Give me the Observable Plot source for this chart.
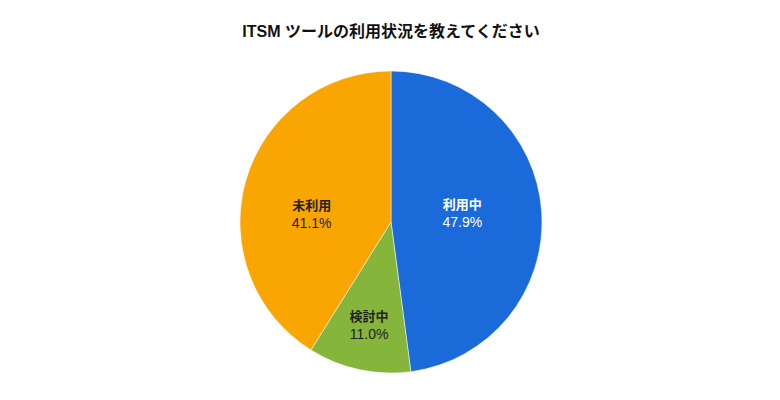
<!DOCTYPE html>
<html><head><meta charset="utf-8">
<script src="https://cdn.jsdelivr.net/npm/d3@7"></script>
<script src="https://cdn.jsdelivr.net/npm/@observablehq/plot@0.6"></script>
<style>
body{margin:0;background:#fff;font-family:"Liberation Sans","Noto Sans CJK JP",sans-serif;}
#title{height:50px;box-sizing:border-box;padding-top:22px;text-align:center;font-size:16px;font-weight:bold;color:#111;line-height:20px;padding-left:2px;}
</style></head>
<body>
<div id="title">ITSM ツールの利用状況を教えてください</div>
<div id="chart"></div>
<script>
const categories = ["利用中", "検討中", "未利用"];
const values = [47.9, 11.0, 41.1];
const sliceColors = ["#1b6ad9", "#85b53a", "#f9a602"];
const labelColors = ["#ffffff", "#222222", "#222222"];
const labelRadius = [0.47, 0.70, 0.55];
const labelNudgeY = [-4, 0, 15];

const W = 780, H = 350, R = 151, CX = 391, CY = 172;
const data = categories.map((c, i) => ({category: c, value: values[i], color: sliceColors[i], text: labelColors[i]}));
const arcs = d3.pie().sort(null).value(d => d.value)(data);
const labels = arcs.map((a, i) => {
  const c = d3.arc().innerRadius(labelRadius[i]).outerRadius(labelRadius[i]).centroid(a);
  return {...a.data, lx: c[0], ly: -c[1] - labelNudgeY[i] / R, pct: a.data.value.toFixed(1) + "%"};
});

const pieMark = (index, scales) => {
  const cx = scales.x(0), cy = scales.y(0), r = scales.x(1) - scales.x(0);
  const g = d3.create("svg:g").attr("transform", `translate(${cx},${cy})`);
  const arc = d3.arc().innerRadius(0).outerRadius(r);
  g.selectAll("path").data(arcs).join("path")
    .attr("d", arc).attr("fill", d => d.data.color)
    .attr("stroke", "#ffffff").attr("stroke-width", 0.5);
  return g.node();
};

const plot = Plot.plot({
  width: W, height: H, margin: 0,
  x: {domain: [-CX / R, (W - CX) / R], range: [0, W], axis: null},
  y: {domain: [-(H - CY) / R, CY / R], range: [H, 0], axis: null},
  style: {fontFamily: '"Liberation Sans","Noto Sans CJK JP",sans-serif', background: "#fff"},
  marks: [
    pieMark,
    Plot.text(labels, {x: "lx", y: "ly", text: "category", fill: "text", dy: -9, fontSize: 13, fontWeight: "bold"}),
    Plot.text(labels, {x: "lx", y: "ly", text: "pct", fill: "text", dy: 9, fontSize: 14})
  ]
});
document.getElementById("chart").appendChild(plot);
</script>
</body></html>
